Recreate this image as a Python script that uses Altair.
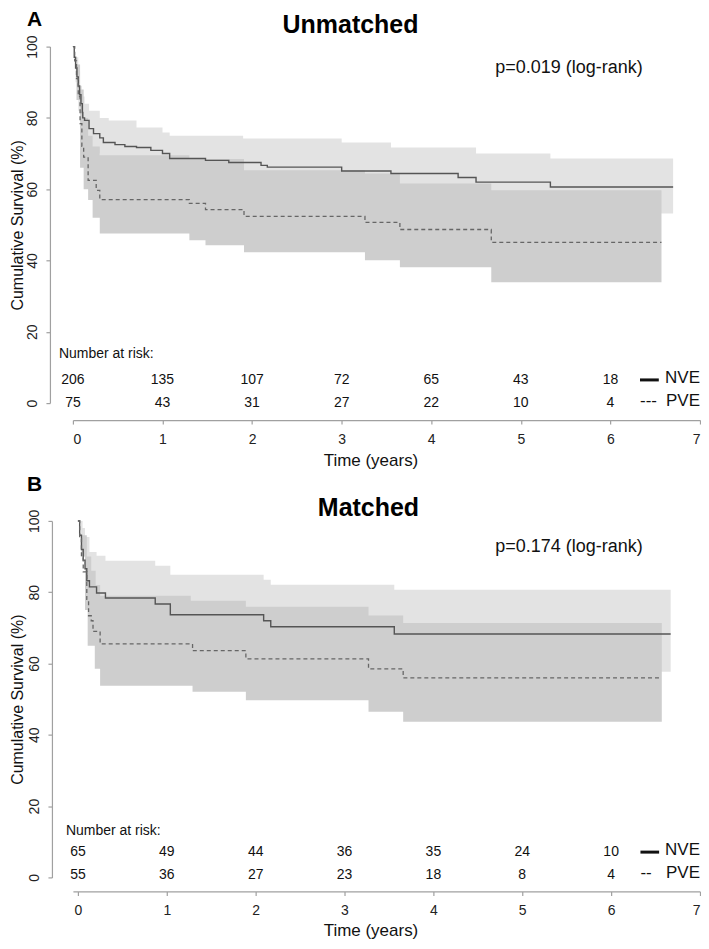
import altair as alt
import pandas as pd

FONT = "Liberation Sans"

# ---------------- Panel A: Unmatched ----------------
a_nve_t = [0, 0.015, 0.03, 0.045, 0.06, 0.075, 0.09, 0.105, 0.11, 0.13, 0.18, 0.23, 0.30, 0.34, 0.47, 0.58, 0.71, 0.87, 1.00, 1.08, 1.48, 1.74, 2.10, 2.17, 3.00, 3.55, 4.30, 4.50, 5.33, 6.70]
a_nve_s = [100, 97, 94, 91.5, 89, 86.5, 84, 81.5, 80, 79.3, 77, 75.6, 74.4, 73.1, 72.5, 72, 71.7, 70.9, 70, 68.6, 68.1, 67.5, 66.7, 66.2, 65.1, 64.4, 63.3, 62, 60.6, 60.6]
a_nve_hi_t = [0, 0.03, 0.06, 0.08, 0.10, 0.13, 0.18, 0.30, 0.40, 0.71, 1.00, 1.08, 1.90, 3.00, 3.55, 4.50, 5.33, 6.70]
a_nve_hi = [100, 97, 93, 89, 86, 84, 82, 80, 79.3, 77.3, 75.9, 75, 74.2, 73.1, 71.7, 70, 68.6, 68.6]
a_nve_lo_t = [0, 0.03, 0.06, 0.09, 0.11, 0.18, 0.30, 0.47, 1.00, 1.08, 2.17, 3.00, 3.55, 4.50, 5.33, 6.70]
a_nve_lo = [100, 90, 82, 77, 73, 70, 68, 66.5, 63.5, 62, 59.5, 58.3, 57.5, 55, 53.2, 53.2]

a_pve_t = [0, 0.02, 0.04, 0.06, 0.08, 0.10, 0.12, 0.17, 0.26, 0.30, 1.30, 1.48, 1.91, 3.26, 3.65, 4.67, 6.57]
a_pve_s = [100, 96, 91, 86, 78.4, 72, 69, 62.5, 59.7, 57.1, 56, 54.3, 52.4, 50.7, 48.7, 45.1, 45.1]
a_pve_hi_t = [0, 0.04, 0.08, 0.12, 0.17, 0.22, 0.30, 1.30, 1.91, 3.26, 3.65, 4.67, 6.57]
a_pve_hi = [100, 95, 88, 80, 75, 72, 69.5, 68.5, 65.3, 64.4, 61.6, 59.7, 59.7]
a_pve_lo_t = [0, 0.04, 0.08, 0.12, 0.17, 0.22, 0.30, 1.30, 1.48, 1.91, 3.26, 3.65, 4.67, 6.57]
a_pve_lo = [100, 85, 66, 60, 57, 52, 47.6, 45.7, 44.3, 42.3, 40.1, 38.1, 33.9, 33.9]

a_risk_nve = [206, 135, 107, 72, 65, 43, 18]
a_risk_pve = [75, 43, 31, 27, 22, 10, 4]

# ---------------- Panel B: Matched ----------------
b_nve_t = [0, 0.02, 0.04, 0.06, 0.08, 0.10, 0.13, 0.21, 0.31, 0.87, 1.04, 2.09, 2.17, 3.56, 6.67]
b_nve_s = [100, 96, 92, 89, 86.6, 83.2, 81.5, 79.8, 78.4, 76.7, 73.7, 72, 70.3, 68.3, 68.3]
b_nve_hi_t = [0, 0.05, 0.08, 0.13, 0.21, 0.31, 0.87, 1.04, 2.09, 2.17, 3.56, 6.67]
b_nve_hi = [100, 98, 95.5, 91.3, 90.2, 88.8, 87.4, 84.9, 83.5, 82.1, 80.7, 80.7]
b_nve_lo_t = [0, 0.05, 0.08, 0.13, 0.21, 0.31, 0.87, 1.04, 2.09, 2.17, 3.56, 6.67]
b_nve_lo = [100, 90, 80, 74, 71, 69, 67, 64, 62, 60, 57.7, 57.7]

b_pve_t = [0, 0.02, 0.04, 0.06, 0.10, 0.12, 0.15, 0.17, 0.25, 1.29, 1.89, 3.27, 3.66, 6.57]
b_pve_s = [100, 95, 90, 85.7, 78, 73.4, 72, 69, 65.5, 63.6, 61.3, 58.5, 56, 56]
b_pve_hi_t = [0, 0.05, 0.10, 0.15, 0.20, 0.25, 1.27, 1.89, 3.27, 3.66, 6.57]
b_pve_hi = [100, 96, 90, 86, 82, 79, 77.6, 75.9, 73.5, 71.4, 71.4]
b_pve_lo_t = [0, 0.04, 0.08, 0.11, 0.19, 0.25, 1.29, 1.89, 3.27, 3.66, 6.57]
b_pve_lo = [100, 90, 75, 65, 58.5, 53.8, 52.1, 49.7, 46.5, 43.7, 43.7]

b_risk_nve = [65, 49, 44, 36, 35, 24, 10]
b_risk_pve = [55, 36, 27, 23, 18, 8, 4]

risk_times = [0, 1, 2, 3, 4, 5, 6]
x_ticks = [0, 1, 2, 3, 4, 5, 6, 7]
y_ticks = [0, 20, 40, 60, 80, 100]

W, H = 628, 357


def value_at(ts, vs, x):
    v = vs[0]
    for ti, vi in zip(ts, vs):
        if ti <= x + 1e-9:
            v = vi
    return v


def band_df(t_lo, lo, t_hi, hi):
    times = sorted(set(t_lo) | set(t_hi))
    return pd.DataFrame({
        "t": times,
        "lo": [value_at(t_lo, lo, x) for x in times],
        "hi": [value_at(t_hi, hi, x) for x in times],
    })


def panel(c):
    xs = alt.Scale(domain=c["xdom"], nice=False, zero=False)
    ys = alt.Scale(domain=[0, 100], nice=False)
    xaxis = alt.Axis(values=x_ticks, title="Time (years)", offset=c["xoff"], grid=False,
                     tickSize=4, labelPadding=8, labelFontSize=14, labelFlush=True, labelFlushOffset=0,
                     titleFontSize=17, titleFontWeight="normal", titlePadding=c["xtp"],
                     titleX=c["titlex"], format="d")
    yaxis = alt.Axis(values=y_ticks, title="Cumulative Survival (%)", offset=c["yoff"], grid=False,
                     tickSize=4, labelPadding=6, labelFontSize=14, labelAngle=270,
                     labelAlign="center", labelBaseline="bottom", titleFontSize=16,
                     titleFontWeight="normal", titlePadding=c["ytp"])
    X = alt.X("t:Q", scale=xs, axis=xaxis)
    Y = alt.Y("s:Q", scale=ys, axis=yaxis)

    nve_band = alt.Chart(band_df(c["nve_lo_t"], c["nve_lo"], c["nve_hi_t"], c["nve_hi"])).mark_area(
        interpolate="step-after", color="#e3e3e3", opacity=1).encode(
        x=X, y=alt.Y("lo:Q", scale=ys, axis=yaxis), y2="hi:Q")
    pve_band = alt.Chart(band_df(c["pve_lo_t"], c["pve_lo"], c["pve_hi_t"], c["pve_hi"])).mark_area(
        interpolate="step-after", color="#cecece", opacity=1).encode(
        x=X, y=alt.Y("lo:Q", scale=ys, axis=yaxis), y2="hi:Q")
    nve_line = alt.Chart(pd.DataFrame({"t": c["nve_t"], "s": c["nve_s"]})).mark_line(
        interpolate="step-after", color="#555555", strokeWidth=1.4).encode(x=X, y=Y)
    pve_line = alt.Chart(pd.DataFrame({"t": c["pve_t"], "s": c["pve_s"]})).mark_line(
        interpolate="step-after", color="#666666", strokeWidth=1.3, strokeDash=[4, 3]).encode(x=X, y=Y)

    risk = pd.DataFrame({
        "t": risk_times + risk_times,
        "s": [c["row1"]] * 7 + [c["row2"]] * 7,
        "label": [str(v) for v in c["risk_nve"]] + [str(v) for v in c["risk_pve"]],
    })
    risk_text = alt.Chart(risk).mark_text(fontSize=14, font=FONT, color="#111",
                                          baseline="middle", align="center").encode(
        x=X, y=Y, text="label:N")
    header = alt.Chart(pd.DataFrame({"t": [c["hdr_t"]], "s": [c["hdr_s"]], "label": ["Number at risk:"]})).mark_text(
        fontSize=14, font=FONT, color="#111", baseline="middle", align="left").encode(x=X, y=Y, text="label:N")
    leg = alt.Chart(pd.DataFrame({"t": [7.0, 7.0], "s": [c["row1"] + 0.6, c["row2"] + 0.6],
                                  "label": ["NVE", "PVE"]})).mark_text(
        fontSize=17, font=FONT, color="#111", baseline="middle", align="right").encode(x=X, y=Y, text="label:N")
    leg_solid = alt.Chart(pd.DataFrame({"t": [6.33], "t2": [6.54], "s": [c["row1"]]})).mark_rule(
        color="#111", strokeWidth=3).encode(x=X, x2="t2:Q", y=Y)
    leg_dash = alt.Chart(pd.DataFrame({"t": [6.33], "s": [c["row2"] + 0.6], "label": [c["dash"]]})).mark_text(
        fontSize=17, font=FONT, color="#111", baseline="middle", align="left").encode(x=X, y=Y, text="label:N")

    letter = alt.Chart(pd.DataFrame({"label": [c["letter"]]})).mark_text(
        fontSize=21, font=FONT, fontWeight="bold", color="#000", align="left", baseline="top").encode(
        x=alt.value(c["letter_x"]), y=alt.value(c["letter_y"]), text="label:N")
    title = alt.Chart(pd.DataFrame({"label": [c["title"]]})).mark_text(
        fontSize=25, font=FONT, fontWeight="bold", color="#000", align="center", baseline="alphabetic").encode(
        x=alt.value(c["title_x"]), y=alt.value(c["title_y"]), text="label:N")
    pval = alt.Chart(pd.DataFrame({"label": [c["pval"]]})).mark_text(
        fontSize=18, font=FONT, color="#111", align="left", baseline="alphabetic").encode(
        x=alt.value(c["p_x"]), y=alt.value(c["p_y"]), text="label:N")

    return alt.layer(nve_band, pve_band, nve_line, pve_line, risk_text, header, leg, leg_solid,
                     leg_dash, letter, title, pval).properties(width=W, height=H)


A = panel(dict(
    xdom=[0, 7], xoff=17, yoff=23, ytp=0, xtp=6, titlex=298,
    nve_t=a_nve_t, nve_s=a_nve_s, nve_hi_t=a_nve_hi_t, nve_hi=a_nve_hi, nve_lo_t=a_nve_lo_t, nve_lo=a_nve_lo,
    pve_t=a_pve_t, pve_s=a_pve_s, pve_hi_t=a_pve_hi_t, pve_hi=a_pve_hi, pve_lo_t=a_pve_lo_t, pve_lo=a_pve_lo,
    risk_nve=a_risk_nve, risk_pve=a_risk_pve, row1=6.5, row2=0.0, hdr_t=-0.156, hdr_s=13.9,
    dash="---", letter="A", letter_x=-46, letter_y=-38, title="Unmatched", title_x=278, title_y=-14,
    pval="p=0.019 (log-rank)", p_x=423, p_y=26,
))

B = panel(dict(
    xdom=[-0.0562, 7], xoff=14, yoff=21, ytp=2, xtp=5, titlex=298,
    nve_t=b_nve_t, nve_s=b_nve_s, nve_hi_t=b_nve_hi_t, nve_hi=b_nve_hi, nve_lo_t=b_nve_lo_t, nve_lo=b_nve_lo,
    pve_t=b_pve_t, pve_s=b_pve_s, pve_hi_t=b_pve_hi_t, pve_hi=b_pve_hi, pve_lo_t=b_pve_lo_t, pve_lo=b_pve_lo,
    risk_nve=b_risk_nve, risk_pve=b_risk_pve, row1=7.1, row2=0.6, hdr_t=-0.135, hdr_s=12.9,
    dash="--", letter="B", letter_x=-46, letter_y=-47, title="Matched", title_x=296, title_y=-5,
    pval="p=0.174 (log-rank)", p_x=423, p_y=31,
))

chart = alt.vconcat(A, B, spacing=6).properties(
    padding={"top": 0, "left": 2, "right": 0, "bottom": 0}
).configure_view(stroke=None).configure_axis(
    labelFont=FONT, titleFont=FONT, domainColor="#a0a0a0", tickColor="#a0a0a0",
    labelColor="#222", titleColor="#111", domainWidth=1.2, tickWidth=1.2
)

chart.save("out.html", embed_options={"renderer": "svg", "actions": False})
